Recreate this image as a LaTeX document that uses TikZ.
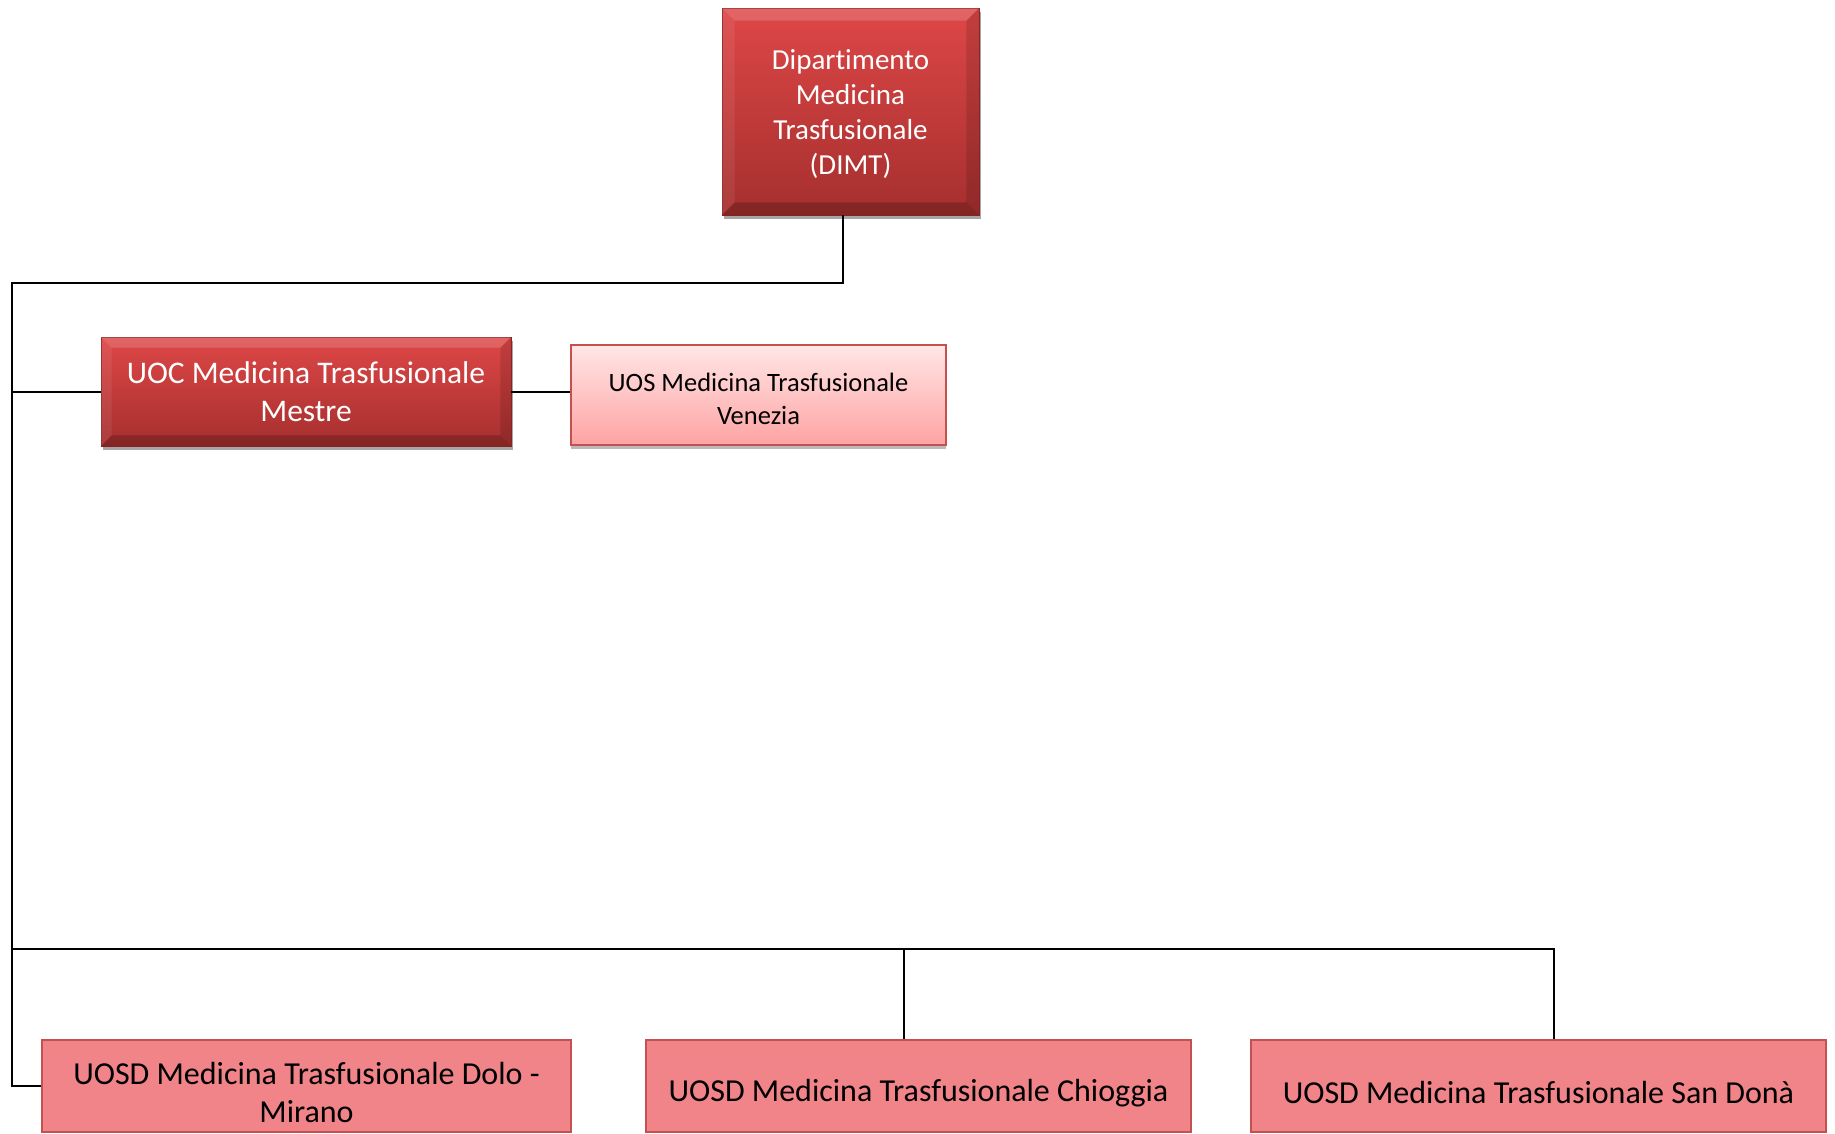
\documentclass[tikz,border=0pt]{standalone}
\usepackage{fontspec}
\setmainfont[Ligatures=NoCommon]{Carlito}
\usetikzlibrary{shadows,calc}
\definecolor{redtop}{HTML}{DE4747}
\definecolor{redbot}{HTML}{A52F2E}
\definecolor{redline}{HTML}{8E2626}
\definecolor{pinktop}{HTML}{FFE6E6}
\definecolor{pinkbot}{HTML}{FFA3A3}
\definecolor{pinkline}{HTML}{C4504F}
\definecolor{salmon}{HTML}{F08489}
\begin{document}
\begin{tikzpicture}[x=1pt,y=-1pt,
  darkbox/.style={draw=redline,line width=0.8pt,top color=redtop,bottom color=redbot,
    inner sep=0pt,
    drop shadow={shadow xshift=2pt,shadow yshift=-4pt,opacity=0.35,fill=black}},
  lightbox/.style={draw=pinkline,line width=1.2pt,top color=pinktop,bottom color=pinkbot,
    inner sep=0pt,
    drop shadow={shadow xshift=0pt,shadow yshift=-4pt,opacity=0.45,fill=black!60}},
  leafbox/.style={draw=pinkline,line width=1.2pt,fill=salmon,inner sep=0pt,
    minimum height=92pt},
  whitetext/.style={text=white,align=center,inner sep=0pt},
  blacktext/.style={text=black,align=center,inner sep=0pt},
  leaftext/.style={blacktext,font=\fontsize{32}{38}\selectfont},
  conn/.style={draw=black,line width=2pt}]
\useasboundingbox (0,0) rectangle (1835,1133);
\fill[white] (0,0) rectangle (1835,1133);

% boxes
\node[darkbox,minimum width=257pt,minimum height=207pt] (top) at (850.5,111.5) {};
\node[darkbox,minimum width=410pt,minimum height=109pt] (uoc) at (306,391.5) {};
\node[lightbox,minimum width=375pt,minimum height=100pt] (uos) at (758.5,395) {};
\node[leafbox,minimum width=529pt] (d1) at (306.5,1086) {};
\node[leafbox,minimum width=545pt] (d2) at (918.5,1086) {};
\node[leafbox,minimum width=575pt] (d3) at (1538.5,1086) {};

% bevels on the dark boxes
\foreach \n/\b in {top/13,uoc/11}{
  \fill[white,opacity=0.16] (\n.north west) -- (\n.north east) -- ($(\n.north east)+(-\b,\b)$) -- ($(\n.north west)+(\b,\b)$) -- cycle;
  \fill[white,opacity=0.07] (\n.north west) -- (\n.south west) -- ($(\n.south west)+(\b,-\b)$) -- ($(\n.north west)+(\b,\b)$) -- cycle;
  \fill[black,opacity=0.12] (\n.north east) -- (\n.south east) -- ($(\n.south east)+(-\b,-\b)$) -- ($(\n.north east)+(-\b,\b)$) -- cycle;
  \fill[black,opacity=0.2] (\n.south west) -- (\n.south east) -- ($(\n.south east)+(-\b,-\b)$) -- ($(\n.south west)+(\b,-\b)$) -- cycle;
}

% texts
\node[whitetext,font=\fontsize{29}{35}\selectfont] (topt) at ($(top.center)+(0,3)$)
  {Dipartimento\\Medicina\\Trasfusionale\\(DIMT)};
\node[whitetext,font=\fontsize{31.5}{38.5}\selectfont] (uoct) at (uoc.center)
  {UOC Medicina Trasfusionale\\Mestre};
\node[blacktext,font=\fontsize{26.5}{32.5}\selectfont] (uost) at ($(uos.center)+(0,4)$)
  {UOS Medicina Trasfusionale\\Venezia};
\node[leaftext] (d1t) at ($(d1.center)+(0,6)$) {UOSD Medicina Trasfusionale Dolo -\\Mirano};
\node[leaftext] (d2t) at ($(d2.center)+(0,7)$) {UOSD Medicina Trasfusionale Chioggia};
\node[leaftext] (d3t) at ($(d3.center)+(0,6)$) {UOSD Medicina Trasfusionale San Donà};

% connectors
\coordinate (tl) at (12,283);
\coordinate (bl) at (12,949);
\coordinate (bm) at (903.5,949);
\coordinate (br) at (1554,949);
\coordinate (tp) at (843,283);
\draw[conn] (tp |- top.south) -- (tp) -- (tl) |- (d1.west);
\draw[conn] (tl |- uoc.west) -- (uoc.west);
\draw[conn] (uoc.east) -- (uos.west |- uoc.east);
\draw[conn] (bl) -- (br) -- (br |- d3.north);
\draw[conn] (bm) -- (bm |- d2.north);
\end{tikzpicture}
\end{document}
